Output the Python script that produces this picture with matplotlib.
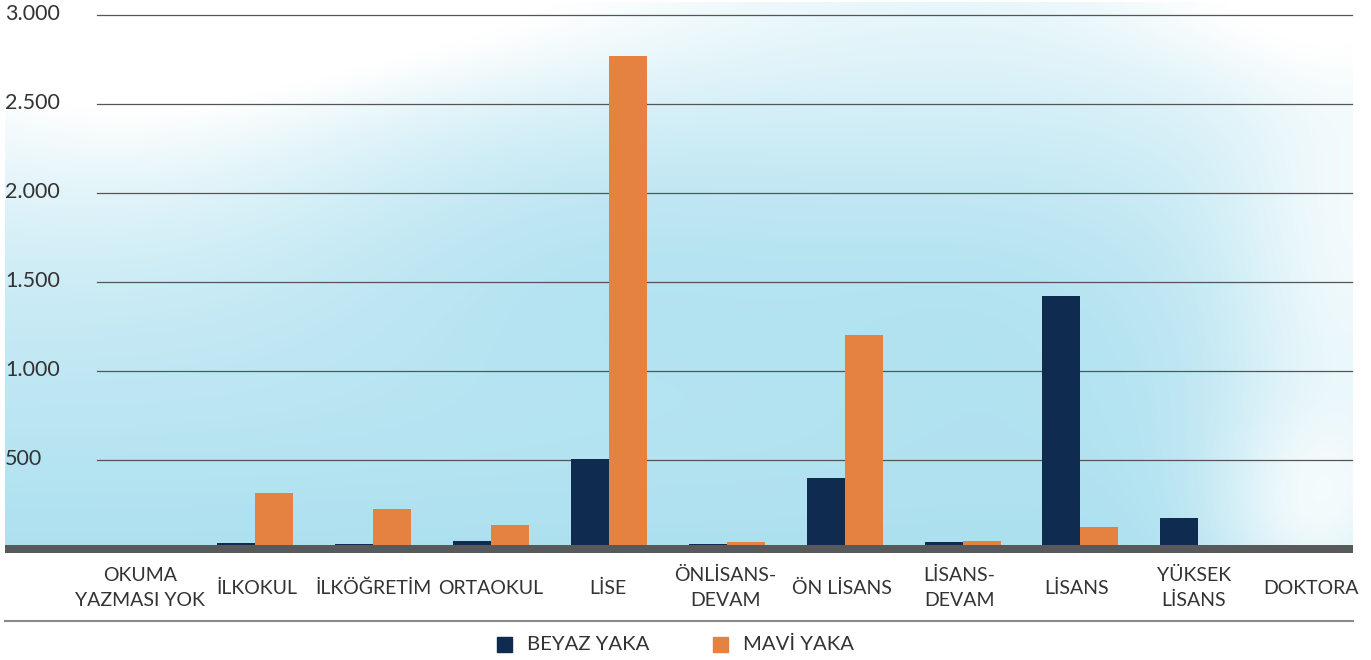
import numpy as np
import matplotlib
matplotlib.use("Agg")
import matplotlib.pyplot as plt
from matplotlib.patches import Rectangle

plt.rcParams['font.family'] = ['Lato', 'DejaVu Sans']

categories = ["OKUMA\nYAZMASI YOK", "İLKOKUL", "İLKÖĞRETİM", "ORTAOKUL", "LİSE",
              "ÖNLİSANS-\nDEVAM", "ÖN LİSANS", "LİSANS-\nDEVAM", "LİSANS",
              "YÜKSEK\nLİSANS", "DOKTORA"]
beyaz_yaka = [2, 35, 30, 45, 506, 30, 399, 41, 1421, 174, 25]
mavi_yaka = [8, 315, 225, 137, 2770, 41, 1202, 47, 124, 5, 2]
yticks = [500, 1000, 1500, 2000, 2500, 3000]
ytick_labels = ["500", "1.000", "1.500", "2.000", "2.500", "3.000"]

c_beyaz = "#0f2b50"
c_mavi = "#e58240"

W, H = 1371, 660
fig = plt.figure(figsize=(W / 100, H / 100), dpi=100)

# axes covers pixel rows 0..560, full width
ax_top, ax_bot = 0, 560
ax = fig.add_axes([0, 1 - ax_bot / H, 1, (ax_bot - ax_top) / H])
ax.set_axis_off()

px_per_cat = 117.9
x0_px = 137.2
def px2x(p):
    return (p - x0_px) / px_per_cat

val_per_px = 500 / 89.0
base_px = 549
ax.set_xlim(px2x(0), px2x(W))
ax.set_ylim(-(ax_bot - base_px) * val_per_px, base_px * val_per_px)

# watercolor-like background wash
ny, nx = 200, 400
yy, xx = np.mgrid[0:1:ny * 1j, 0:1:nx * 1j]
wash = 0.3 + 0.7 * yy
wash += 0.25 * np.exp(-((xx - 0.45) ** 2 / 0.05 + (yy - 0.45) ** 2 / 0.08))
wash += 0.2 * np.exp(-((xx - 0.75) ** 2 / 0.03 + (yy - 0.5) ** 2 / 0.1))
wash -= 0.5 * np.exp(-((xx - 0.08) ** 2 / 0.04 + (yy - 0.05) ** 2 / 0.1))
wash -= 0.5 * np.exp(-((xx - 1.0) ** 2 / 0.008 + (yy - 0.55) ** 2 / 0.2))
wash -= 0.6 * np.exp(-((xx - 0.97) ** 2 / 0.006 + (yy - 0.95) ** 2 / 0.04))
wash -= 0.35 * np.exp(-((xx - 0.3) ** 2 / 0.06 + (yy - 0.0) ** 2 / 0.03))
wash -= 0.3 * np.exp(-((xx - 0.95) ** 2 / 0.02 + (yy - 0.0) ** 2 / 0.02))
wash = np.clip(wash, 0, 1)
blue = np.array([0.68, 0.88, 0.94])
img = np.ones((ny, nx, 3)) * (1 - wash[..., None]) + blue * wash[..., None]
y_top = base_px * val_per_px
ax.imshow(img, extent=[px2x(5), px2x(1353), 0, y_top * 0.995], origin="upper",
          aspect="auto", zorder=0, interpolation="bilinear")

# gridlines
for t in yticks:
    ax.plot([px2x(97), px2x(1352)], [t, t], color="#555555", lw=0.9, zorder=1)
for t, lab in zip(yticks, ytick_labels):
    ax.text(px2x(5), t + 5, lab, ha="left", va="center", fontsize=15.5, color="#333333")

x = np.arange(len(categories))
bw = 38 / px_per_cat
ax.bar(x - bw / 2, beyaz_yaka, width=bw, color=c_beyaz, zorder=2, label="BEYAZ YAKA")
ax.bar(x + bw / 2, mavi_yaka, width=bw, color=c_mavi, zorder=2, label="MAVİ YAKA")

# base band
band = 4 * val_per_px
ax.add_patch(Rectangle((px2x(5), -band), px2x(1353) - px2x(5), 2 * band,
                       color="#58595b", zorder=3, lw=0))

# category labels (slightly tighter spacing than the bars, as in the original)
lab_x0, lab_step = 139.8, 117.1
for i, lab in enumerate(categories):
    fig.text((lab_x0 + i * lab_step) / W, 1 - 588 / H, lab, ha="center", va="center",
             fontsize=14, color="#333333", linespacing=1.55)

# separator line
fig.add_artist(plt.Line2D([5 / W, 1353 / W], [1 - 621 / H, 1 - 621 / H],
                          color="#8a8a8a", lw=1.5))

# legend
ly = 1 - 644 / H
fig.add_artist(Rectangle((497 / W, ly - 8 / H), 15 / W, 15 / H, color=c_beyaz,
                         transform=fig.transFigure))
fig.text(527 / W, ly, "BEYAZ YAKA", ha="left", va="center", fontsize=14.6, color="#333333")
fig.add_artist(Rectangle((713 / W, ly - 8 / H), 15 / W, 15 / H, color=c_mavi,
                         transform=fig.transFigure))
fig.text(743 / W, ly, "MAVİ YAKA", ha="left", va="center", fontsize=14.6, color="#333333")

fig.savefig("out.png", dpi=100)
